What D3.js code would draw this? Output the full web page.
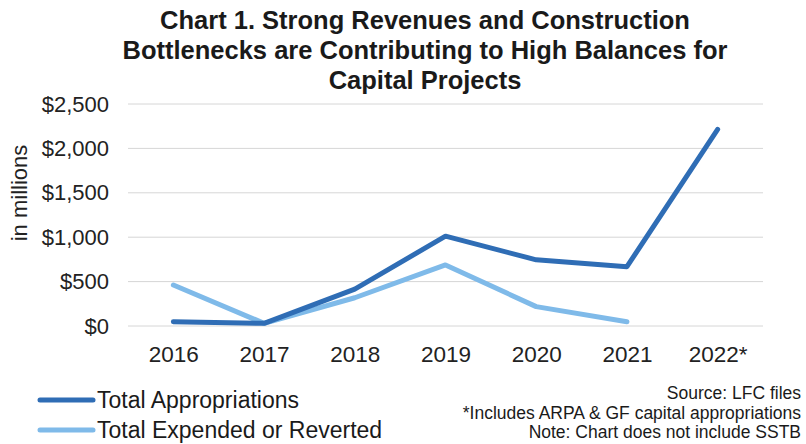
<!DOCTYPE html>
<html>
<head>
<meta charset="utf-8">
<script src="https://cdn.jsdelivr.net/npm/d3@7"></script>
<style>
  body { margin: 0; background: #fff; }
  svg { font-family: "Liberation Sans", Arial, sans-serif; }
</style>
</head>
<body>
<svg id="canvas" width="806" height="444"></svg>
<script>
// chart data (millions of dollars)
let years = ['2016', '2017', '2018', '2019', '2020', '2021', '2022*']
let appropriations = [48, 30, 415, 1012, 745, 668, 2215]
let expended = [462, 30, 318, 688, 218, 48]
let yTicks = [0, 500, 1000, 1500, 2000, 2500]

let titleLines = [
    'Chart 1. Strong Revenues and Construction',
    'Bottlenecks are Contributing to High Balances for',
    'Capital Projects'
]
let notes = [
    'Source: LFC files',
    '*Includes ARPA & GF capital appropriations',
    'Note: Chart does not include SSTB'
]

let darkBlue = '#2f6db5'
let lightBlue = '#7fbae9'

let canvas = d3.select('#canvas')

// title
canvas.append('g')
    .selectAll('text')
    .data(titleLines)
    .enter()
    .append('text')
    .attr('x', 425)
    .attr('y', (d, i) => 29 + i * 30)
    .attr('text-anchor', 'middle')
    .style('font-weight', 'bold')
    .style('font-size', '25.5px')
    .style('fill', '#1a1a1a')
    .text(d => d)

let xScale = d3.scalePoint()
    .domain(years)
    .range([128, 763])
    .padding(0.5)

let yScale = d3.scaleLinear()
    .domain([0, 2500])
    .range([326, 104])

// gridlines
canvas.append('g')
    .selectAll('line')
    .data(yTicks)
    .enter()
    .append('line')
    .attr('x1', 128)
    .attr('x2', 763)
    .attr('y1', d => yScale(d))
    .attr('y2', d => yScale(d))
    .attr('stroke', '#d6d6d6')
    .attr('stroke-width', 1)

// y axis
let yAxis = d3.axisLeft(yScale)
    .tickValues(yTicks)
    .tickSize(0)
    .tickPadding(0)
    .tickFormat(d => '$' + d3.format(',')(d))

let yAxisG = canvas.append('g')
    .attr('transform', 'translate(109,0)')
    .call(yAxis)
yAxisG.select('.domain').remove()
yAxisG.selectAll('text')
    .style('font-family', '"Liberation Sans", Arial, sans-serif')
    .style('font-size', '22px')
    .style('fill', '#222')

// x axis
let xAxis = d3.axisBottom(xScale)
    .tickSize(0)
    .tickPadding(0)

let xAxisG = canvas.append('g')
    .attr('transform', 'translate(0,346)')
    .call(xAxis)
xAxisG.select('.domain').remove()
xAxisG.selectAll('text')
    .style('font-family', '"Liberation Sans", Arial, sans-serif')
    .style('font-size', '22.5px')
    .style('fill', '#222')

// y axis label
canvas.append('text')
    .attr('transform', 'translate(27,193) rotate(-90)')
    .attr('text-anchor', 'middle')
    .style('font-size', '22px')
    .style('fill', '#222')
    .text('in millions')

// lines
let line = d3.line()
    .x((d, i) => xScale(years[i]))
    .y(d => yScale(d))

let series = [
    { values: expended, color: lightBlue },
    { values: appropriations, color: darkBlue }
]

canvas.append('g')
    .selectAll('path')
    .data(series)
    .enter()
    .append('path')
    .attr('d', d => line(d.values))
    .attr('fill', 'none')
    .attr('stroke', d => d.color)
    .attr('stroke-width', 5)
    .attr('stroke-linecap', 'round')
    .attr('stroke-linejoin', 'round')

// legend
let legendItems = [
    { label: 'Total Appropriations', color: darkBlue },
    { label: 'Total Expended or Reverted', color: lightBlue }
]

let legend = canvas.append('g')
    .selectAll('g')
    .data(legendItems)
    .enter()
    .append('g')
    .attr('transform', (d, i) => 'translate(0,' + (400 + i * 30) + ')')

legend.append('line')
    .attr('x1', 40)
    .attr('x2', 93)
    .attr('stroke', d => d.color)
    .attr('stroke-width', 5)
    .attr('stroke-linecap', 'round')

legend.append('text')
    .attr('x', 97)
    .attr('y', 7.5)
    .style('font-size', '23px')
    .style('fill', '#1a1a1a')
    .text(d => d.label)

// source notes
canvas.append('g')
    .selectAll('text')
    .data(notes)
    .enter()
    .append('text')
    .attr('x', 801)
    .attr('y', (d, i) => 399 + i * 19.5)
    .attr('text-anchor', 'end')
    .style('font-size', '17.5px')
    .style('fill', '#1a1a1a')
    .text(d => d)
</script>
</body>
</html>
